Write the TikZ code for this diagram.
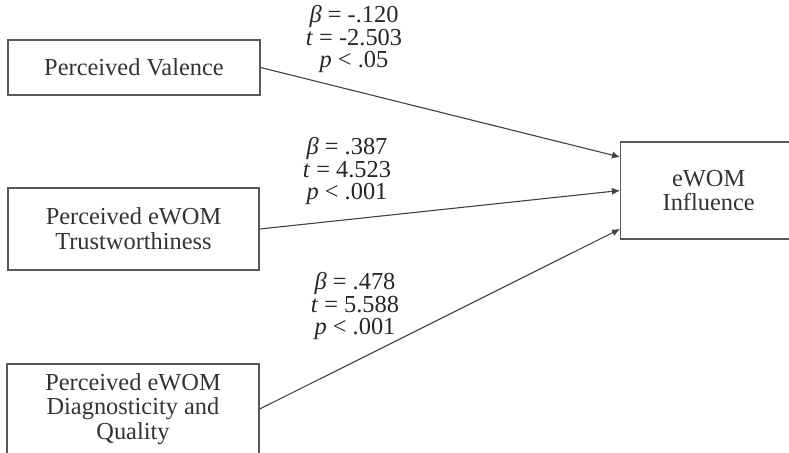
\documentclass[tikz,border=0pt]{standalone}
\usepackage{fontspec}
\setmainfont{Liberation Serif}
\usetikzlibrary{positioning,arrows.meta}

\begin{document}
\begin{tikzpicture}[
x=0.5pt, y=-0.5pt,
box/.style={draw=black!65, line width=0.7pt, align=center, inner sep=0pt, font=\fontsize{12.2}{12.4}\selectfont, text=black!80},
stat/.style={align=center, inner sep=0pt, font=\fontsize{12.2}{11.2}\selectfont, text=black!85},
arrow/.style={-{Latex[length=4pt,width=3.6pt]}, line width=0.55pt, black!75}
]
\useasboundingbox (0,0) rectangle (789,452);
\clip (0,0) rectangle (789,452);
\node[box, minimum width=126pt, minimum height=27.5pt] (valence) at (134,67.5) {Perceived Valence};
\node[box, minimum width=125.5pt, minimum height=41pt] (trust) at (133.5,229) {Perceived eWOM\\Trustworthiness};
\node[box, minimum width=126pt, minimum height=45pt] (diag) at (133,409) {Perceived eWOM\\Diagnosticity and\\Quality};
% box runs off the right edge, text kept in the visible part
\node[box, align=left, text width=120pt, minimum height=48.5pt, anchor=west] (influence) at (620,190.5) {\makebox[88pt]{eWOM}\\\makebox[88pt]{Influence}};
\node[stat] (lblValence) at (354,39) {\textit{β} = -.120\\\textit{t} = -2.503\\\textit{p} < .05};
\node[stat] (lblTrust) at (347,171) {\textit{β} = .387\\\textit{t} = 4.523\\\textit{p} < .001};
\node[stat] (lblDiag) at (355,306) {\textit{β} = .478\\\textit{t} = 5.588\\\textit{p} < .001};
\draw[arrow] (valence.east) -- ([yshift=16.75pt]influence.west);
\draw[arrow] (trust.east) -- (influence.west);
\draw[arrow] (diag.east) -- ([yshift=-19.25pt]influence.west);
\end{tikzpicture}
\end{document}
